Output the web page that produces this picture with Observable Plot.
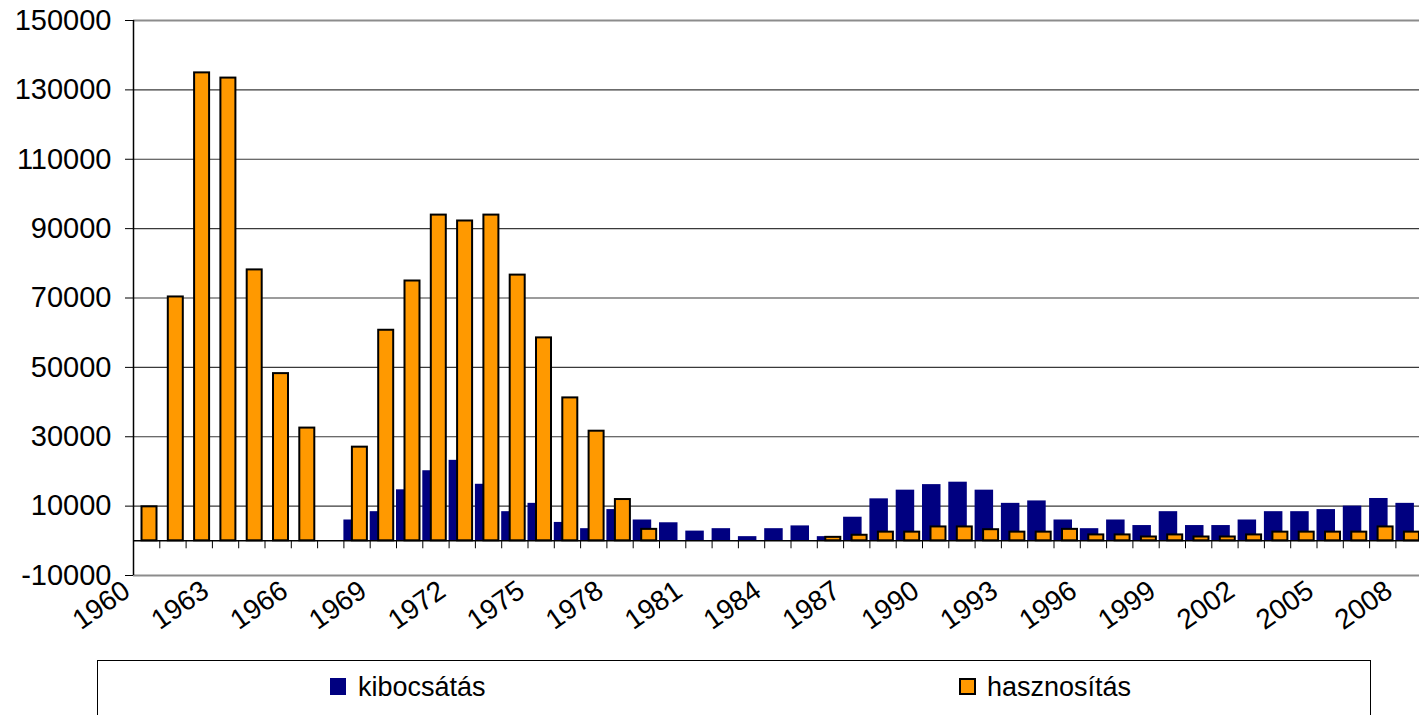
<!DOCTYPE html>
<html>
<head>
<meta charset="utf-8">
<script src="https://cdn.jsdelivr.net/npm/d3@7"></script>
<script src="https://cdn.jsdelivr.net/npm/@observablehq/plot@0.6"></script>
<style>
  html, body { margin: 0; padding: 0; background: #fff; overflow: hidden; width: 1419px; height: 715px; }
  body { font-family: "Liberation Sans", Arial, sans-serif; position: relative; }
  #chart svg { display: block; max-width: none; }
  .legend { position: absolute; left: 97px; top: 660px; width: 1274px; height: 80px; border: 1.5px solid #000; box-sizing: border-box; }
  .sw { position: absolute; box-sizing: border-box; }
  .lab { position: absolute; white-space: nowrap; color: #000; line-height: 1; }
</style>
</head>
<body>
<div id="chart"></div>
<div class="legend">
  <div class="sw" style="left:232px; top:17px; width:16px; height:17px; background:#000080;"></div>
  <div class="lab" style="left:260px; top:13px; font-size:27px;">kibocsátás</div>
  <div class="sw" style="left:861px; top:17px; width:17px; height:17px; background:#FF9900; border:2px solid #000;"></div>
  <div class="lab" style="left:889px; top:13px; font-size:27px;">hasznosítás</div>
</div>
<script>
const years = d3.range(1960, 2009);
const kibocsatas = [
  null, null, null, null, null, null, null, null,
  6000, 8400, 14700, 20200, 23200, 16300, 8400, 10800, 5300, 3500, 9000, 6000,
  5200, 2800, 3500, 1200, 3500, 4300, 1200, 6800, 12100, 14600,
  16200, 16900, 14600, 10800, 11500, 6000, 3500, 6000, 4400, 8400,
  4400, 4400, 6000, 8400, 8400, 9000, 10000, 12200, 10800
];
const hasznositas = [
  9800, 70300, 134900, 133400, 78100, 48200, 32500, null,
  27000, 60700, 74900, 93900, 92200, 93900, 76600, 58500, 41200, 31600, 11900, 3300,
  null, null, null, null, null, null, 1000, 1600, 2500, 2500,
  4000, 4000, 3200, 2500, 2500, 3300, 1700, 1700, 1100, 1700,
  1100, 1100, 1700, 2500, 2500, 2500, 2500, 4000, 2500
];
const yTicks = [-10000, 10000, 30000, 50000, 70000, 90000, 110000, 130000, 150000];
const innerGrid = [10000, 30000, 50000, 70000, 90000, 110000, 130000];
const labelYears = d3.range(1960, 2009, 3);

const blue = years.map((y, i) => ({year: y, value: kibocsatas[i]})).filter(d => d.value != null);
const orange = years.map((y, i) => ({year: y, value: hasznositas[i]})).filter(d => d.value != null);

const chart = Plot.plot({
  width: 1419,
  height: 650,
  marginTop: 20,
  marginBottom: 75,
  marginLeft: 133,
  marginRight: 0,
  style: {fontFamily: "Liberation Sans, Arial, sans-serif", color: "#000", background: "#fff"},
  x: {type: "linear", domain: [1960, 2009], range: [133, 1421.7], axis: null},
  y: {domain: [-10000, 150000], axis: null},
  marks: [
    Plot.ruleY(innerGrid, {stroke: "#3a3a3a", strokeWidth: 1.2}),
    Plot.ruleY([150000, -10000], {stroke: "#8c8c8c", strokeWidth: 2}),
    Plot.rectY(blue, {x1: "year", x2: d => d.year + 1, y: "value", fill: "#000080", insetLeft: 0, insetRight: 7.8}),
    Plot.rectY(orange, {x1: "year", x2: d => d.year + 1, y: "value", fill: "#FF9900", stroke: "#000", strokeWidth: 2, insetLeft: 8.5, insetRight: 2.8}),
    Plot.ruleY([0], {stroke: "#000", strokeWidth: 1.5}),
    Plot.ruleX(d3.range(1961, 2010), {y1: 0, y2: -2300, stroke: "#000", strokeWidth: 1}),
    Plot.ruleX([1960], {stroke: "#000", strokeWidth: 1.5}),
    Plot.axisY({ticks: yTicks, tickSize: 8, tickPadding: 14, fontSize: 29, tickFormat: d => String(d), label: null, anchor: "left"}),
    Plot.text(labelYears, {x: d => d, y: -10000, text: d => String(d), rotate: -35, textAnchor: "end", lineAnchor: "top", fontSize: 28, dx: -13, dy: 3, fill: "#000"})
  ]
});
document.getElementById("chart").appendChild(chart);
</script>
</body>
</html>
